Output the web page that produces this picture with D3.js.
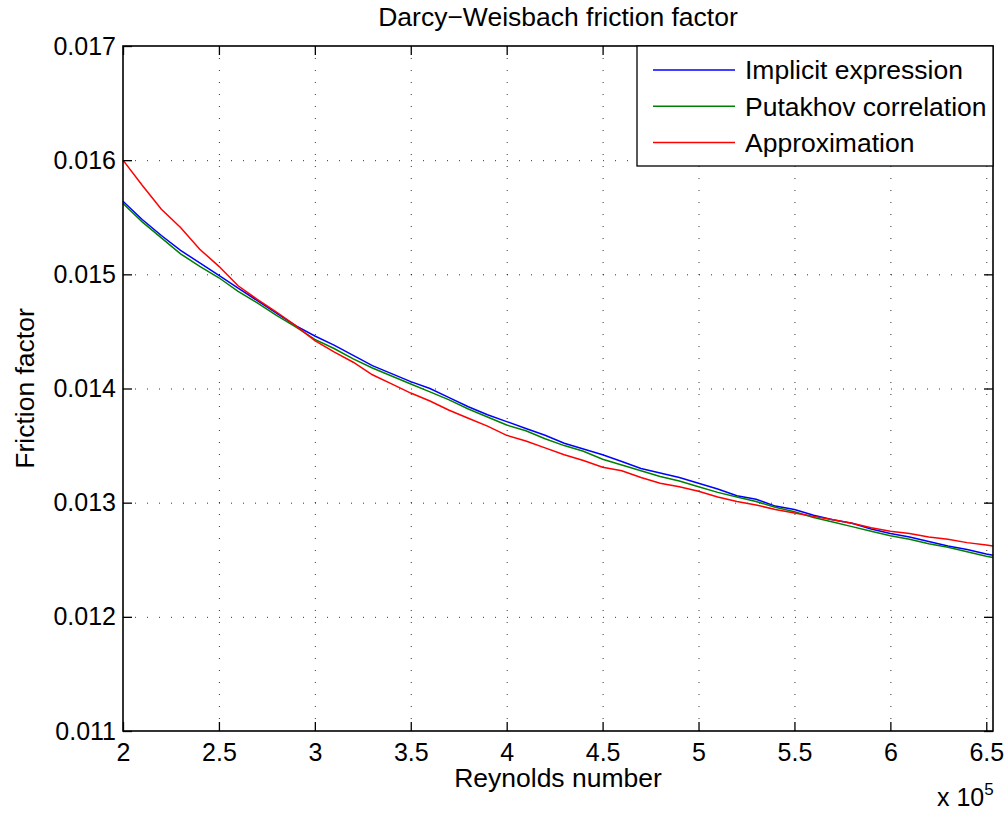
<!DOCTYPE html>
<html><head><meta charset="utf-8">
<script src="https://cdn.jsdelivr.net/npm/d3@7"></script>
<style>
body{margin:0;background:#fff;}
svg{display:block;font-family:"Liberation Sans",Arial,Helvetica,sans-serif;}
</style>
</head><body>
<svg id="chart" width="1006" height="814"></svg>
<script>
// Reynolds number (x 10^5)
const reynolds = [2.0,2.1,2.2,2.3,2.4,2.5,2.6,2.7,2.8,2.9,3.0,3.1,3.2,3.3,3.4,3.5,3.6,3.7,3.8,3.9,4.0,4.1,4.2,4.3,4.4,4.5,4.6,4.7,4.8,4.9,5.0,5.1,5.2,5.3,5.4,5.5,5.6,5.7,5.8,5.9,6.0,6.1,6.2,6.3,6.4,6.5,6.535];
const implicitExpression = [0.01564,0.01548,0.01534,0.01521,0.01510,0.01499,0.01488,0.01477,0.01466,0.01455,0.01446,0.01438,0.01429,0.01420,0.01413,0.01406,0.01400,0.01392,0.01384,0.01377,0.01371,0.01365,0.01359,0.01352,0.01347,0.01342,0.01336,0.01330,0.01326,0.01322,0.01317,0.01312,0.01306,0.01303,0.01297,0.01294,0.01289,0.01285,0.01282,0.01277,0.01273,0.01270,0.01266,0.01262,0.01259,0.01255,0.01254];
const putakhovCorrelation = [0.01562,0.01546,0.01532,0.01518,0.01507,0.01497,0.01485,0.01475,0.01464,0.01454,0.01443,0.01435,0.01426,0.01418,0.01411,0.01404,0.01397,0.01390,0.01382,0.01375,0.01368,0.01363,0.01356,0.01350,0.01345,0.01338,0.01333,0.01328,0.01323,0.01319,0.01314,0.01309,0.01305,0.01301,0.01296,0.01292,0.01287,0.01283,0.01279,0.01275,0.01271,0.01268,0.01264,0.01261,0.01257,0.01253,0.01252];
const approximation = [0.01600,0.01578,0.01557,0.01541,0.01522,0.01507,0.01490,0.01478,0.01467,0.01455,0.01442,0.01432,0.01423,0.01412,0.01404,0.01396,0.01389,0.01381,0.01374,0.01367,0.01359,0.01354,0.01348,0.01342,0.01337,0.01331,0.01328,0.01322,0.01317,0.01314,0.01310,0.01305,0.01301,0.01298,0.01294,0.01291,0.01288,0.01285,0.01282,0.01278,0.01275,0.01273,0.01270,0.01268,0.01265,0.01263,0.01262];
const xTicks = [2,2.5,3,3.5,4,4.5,5,5.5,6,6.5];
const yTicks = [0.011,0.012,0.013,0.014,0.015,0.016,0.017];
const xDomain = [2, 6.535];
const yDomain = [0.011, 0.017];
const seriesNames = ["Implicit expression","Putakhov correlation","Approximation"];
const seriesColors = ["#0000ff","#008000","#ff0000"];
const seriesValues = [implicitExpression, putakhovCorrelation, approximation];

const svg = d3.select("#chart");
const m = {left:123, right:993, top:46, bottom:731};
const W = m.right - m.left, H = m.bottom - m.top;
const FS = 25, FL = 26.5;

const x = d3.scaleLinear().domain(xDomain).range([m.left, m.right]);
const y = d3.scaleLinear().domain(yDomain).range([m.bottom, m.top]);

// grid
const grid = svg.append("g").attr("class","grid");
grid.append("g").attr("transform",`translate(0,${m.bottom})`)
  .call(d3.axisBottom(x).tickValues(xTicks.filter(v=>v>xDomain[0])).tickSize(-H).tickFormat(""))
  .call(g=>g.select(".domain").remove());
grid.append("g").attr("transform",`translate(${m.left},0)`)
  .call(d3.axisLeft(y).tickValues(yTicks.filter(v=>v>yDomain[0]&&v<yDomain[1])).tickSize(-W).tickFormat(""))
  .call(g=>g.select(".domain").remove());
grid.selectAll("line").attr("stroke","#000").attr("stroke-width",1).attr("stroke-dasharray","1,11").attr("opacity",0.8);

// lines
const line = d3.line().x((d,i)=>x(reynolds[i])).y(d=>y(d));
seriesValues.forEach((vals,k)=>{
  svg.append("path").datum(vals).attr("d",line)
    .attr("fill","none").attr("stroke",seriesColors[k]).attr("stroke-width",1.5);
});

// axes with inward ticks
const axB = svg.append("g").attr("transform",`translate(0,${m.bottom})`)
  .call(d3.axisBottom(x).tickValues(xTicks).tickSizeInner(-9).tickSizeOuter(0).tickPadding(12).tickFormat(d3.format("")));
const axL = svg.append("g").attr("transform",`translate(${m.left},0)`)
  .call(d3.axisLeft(y).tickValues(yTicks).tickSizeInner(-9).tickSizeOuter(0).tickPadding(7).tickFormat(d3.format(".3f")));
const axT = svg.append("g").attr("transform",`translate(0,${m.top})`)
  .call(d3.axisTop(x).tickValues(xTicks).tickSizeInner(-9).tickSizeOuter(0).tickFormat(""));
const axR = svg.append("g").attr("transform",`translate(${m.right},0)`)
  .call(d3.axisRight(y).tickValues(yTicks).tickSizeInner(-9).tickSizeOuter(0).tickFormat(""));
[axB,axL,axT,axR].forEach(g=>{
  g.select(".domain").remove();
  g.selectAll("line").attr("stroke","#000").attr("stroke-width",1.3);
  g.selectAll("text").attr("font-size",FS).attr("fill","#000").attr("font-family",null);
});

svg.append("rect").attr("x",m.left).attr("y",m.top).attr("width",W).attr("height",H)
  .attr("fill","none").attr("stroke","#000").attr("stroke-width",1.6);

// labels
svg.append("text").attr("x",(m.left+m.right)/2).attr("y",26).attr("text-anchor","middle")
  .attr("font-size",FL).text("Darcy\u2212Weisbach friction factor");
svg.append("text").attr("x",(m.left+m.right)/2).attr("y",787).attr("text-anchor","middle")
  .attr("font-size",FL).text("Reynolds number");
svg.append("text").attr("transform",`translate(34,${(m.top+m.bottom)/2}) rotate(-90)`).attr("text-anchor","middle")
  .attr("font-size",FL).text("Friction factor");
const sci = svg.append("text").attr("x",937).attr("y",806).attr("font-size",FS);
sci.append("tspan").text("x 10");
sci.append("tspan").attr("dy",-11).attr("font-size",17).text("5");

// legend
const lg = svg.append("g");
lg.append("rect").attr("x",637).attr("y",m.top).attr("width",m.right-637).attr("height",120)
  .attr("fill","#fff").attr("stroke","#000").attr("stroke-width",1.3);
seriesNames.forEach((name,k)=>{
  const ly = 70 + k*36.3;
  lg.append("line").attr("x1",653).attr("x2",735).attr("y1",ly).attr("y2",ly)
    .attr("stroke",seriesColors[k]).attr("stroke-width",1.5);
  lg.append("text").attr("x",745).attr("y",ly).attr("dy","0.35em").attr("font-size",FL).text(name);
});
</script>
</body></html>
